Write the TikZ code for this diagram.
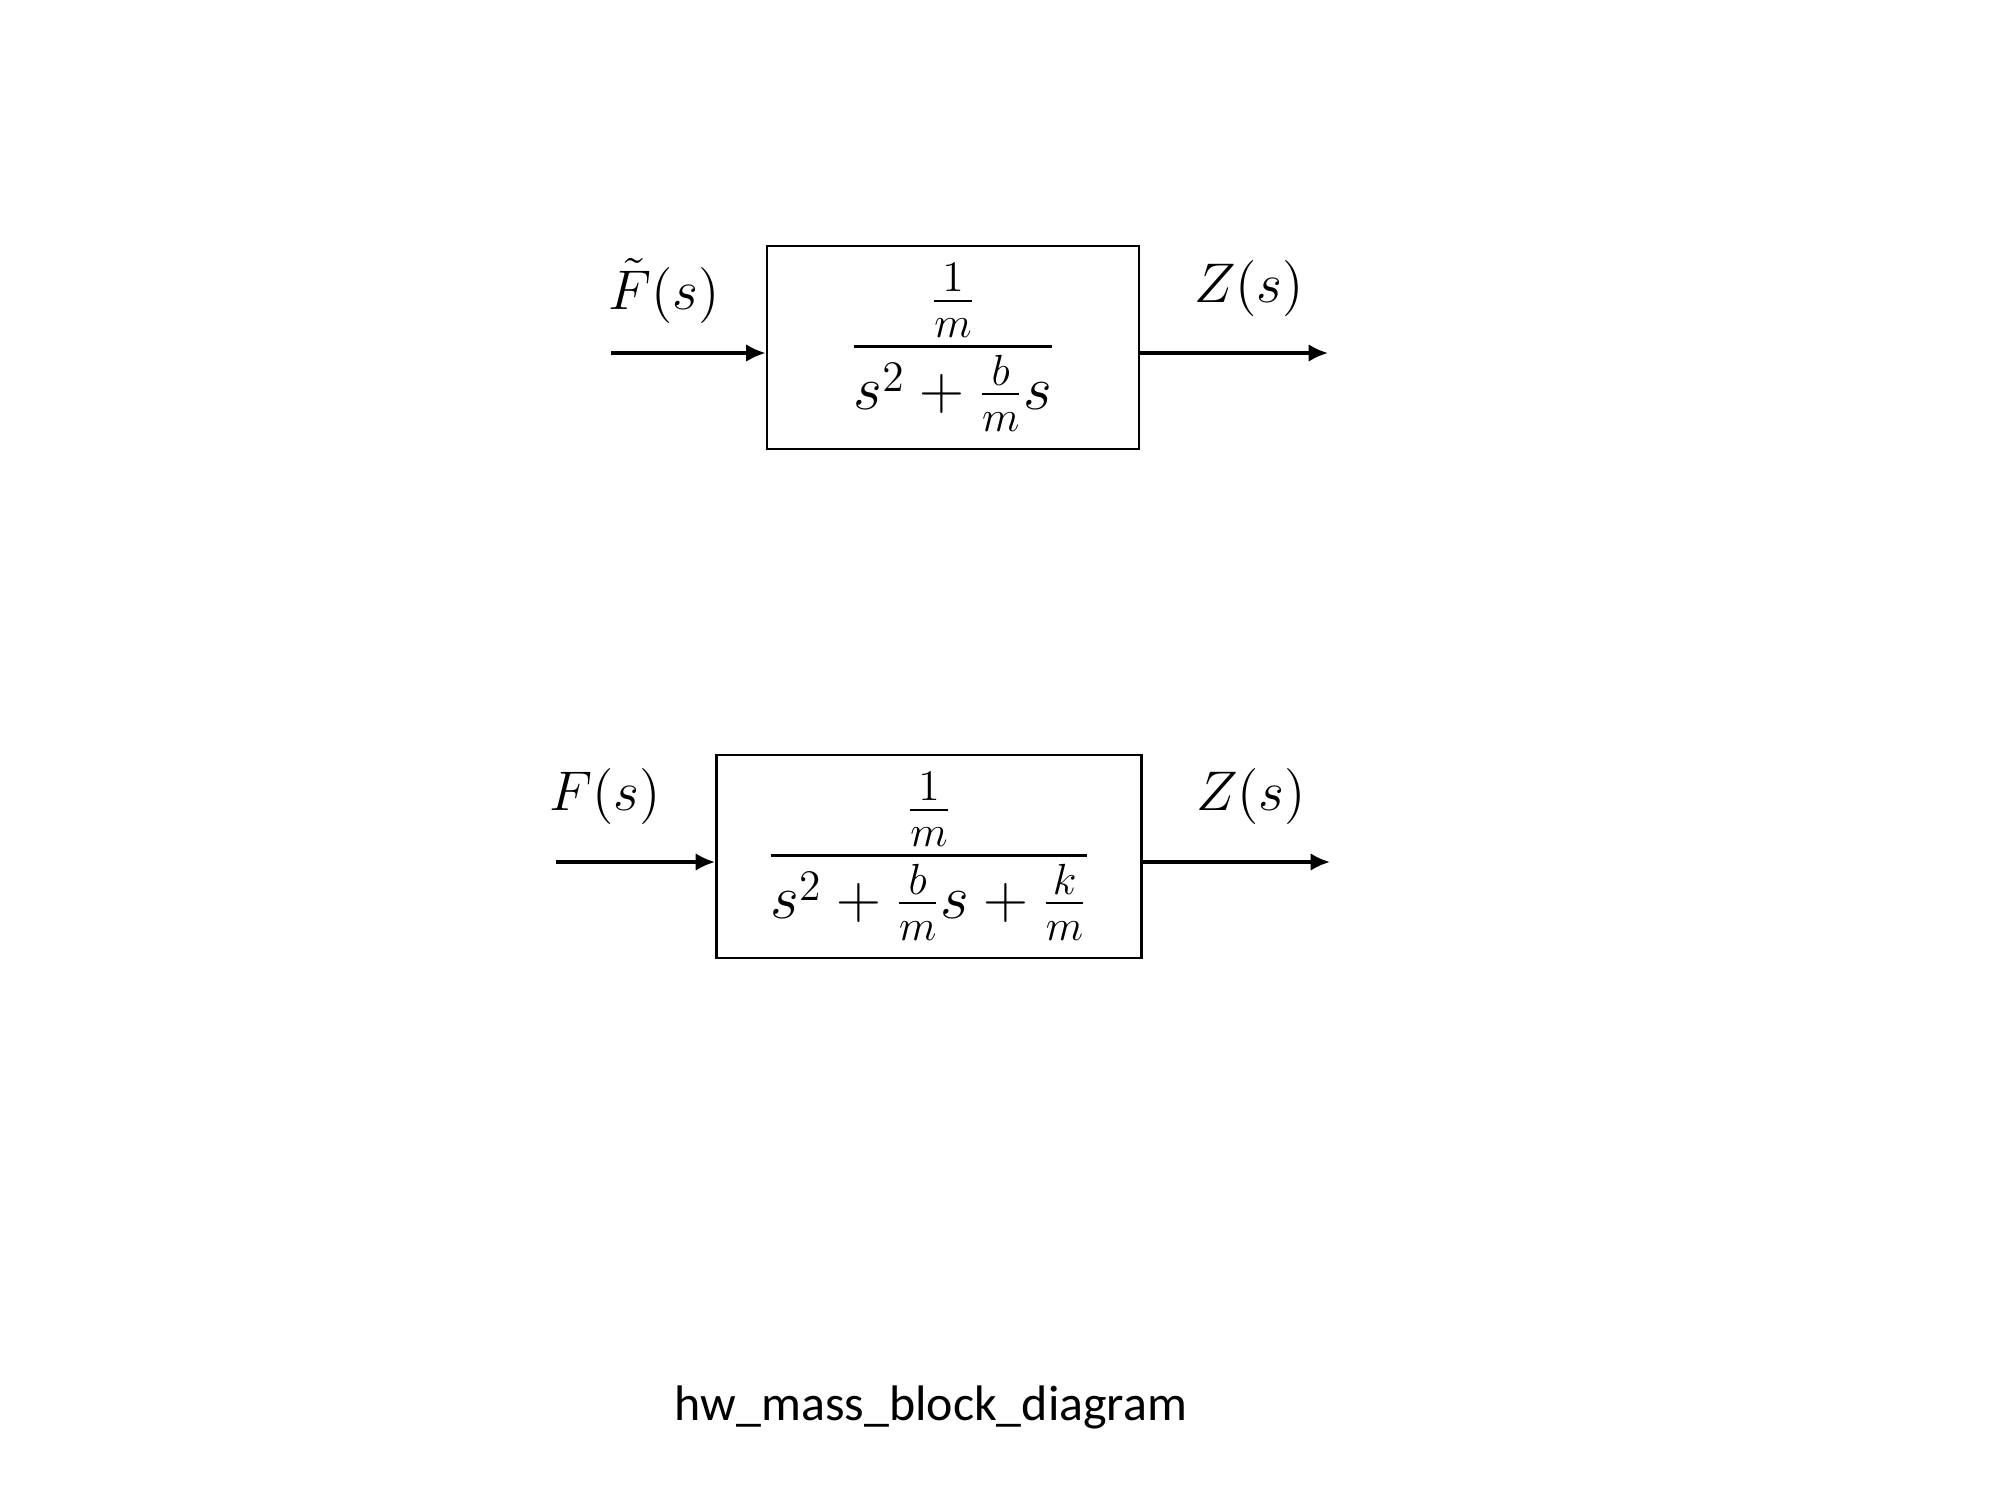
\RequirePackage{fix-cm}
\documentclass[tikz,border=0pt]{standalone}
\usepackage{amsmath}
\usepackage{fontspec}
\setsansfont{Carlito}
\usetikzlibrary{arrows.meta,positioning}

\begin{document}
\begin{tikzpicture}[x=0.01cm, y=-0.01cm,
  block/.style={draw, line width=0.75pt, minimum height=2.03cm, inner sep=0pt, font=\fontsize{17.7}{21}\selectfont},
  sig/.style={inner sep=0pt, font=\fontsize{15.9}{19}\selectfont},
  arr/.style={-{Latex[length=5.5pt, width=5pt]}, line width=0.95pt},
  caption/.style={inner sep=0pt, font=\sffamily\fontsize{14.2}{17}\selectfont}
]
  \useasboundingbox (0,0) rectangle (2000,1500);
  % mass with damper
  \node[block, minimum width=3.72cm] (damp) at (953,347.5) {$\displaystyle\frac{\frac{1}{m}}{s^2+\frac{b}{m}s}$};
  \coordinate (dampin) at (611,353);
  \coordinate (dampout) at (1328,353);
  \node[sig] (ftilde) at (664,291) {$\tilde{F}(s)$};
  \node[sig] (zdamp) at (1249,289) {$Z(s)$};
  \draw[arr] (dampin) -- (dampin -| damp.west);
  \draw[arr] (dampin -| damp.east) -- (dampout);
  % mass with damper and spring
  \node[block, minimum width=4.25cm] (spring) at (929,856.5) {$\displaystyle\frac{\frac{1}{m}}{s^2+\frac{b}{m}s+\frac{k}{m}}$};
  \coordinate (springin) at (556,862);
  \coordinate (springout) at (1330,862);
  \node[sig] (fs) at (605,797) {$F(s)$};
  \node[sig] (zspring) at (1251,797) {$Z(s)$};
  \draw[arr] (springin) -- (springin -| spring.west);
  \draw[arr] (springin -| spring.east) -- (springout);
  % caption
  \node[caption] (title) at (931,1407) {hw\_mass\_block\_diagram};
\end{tikzpicture}
\end{document}
